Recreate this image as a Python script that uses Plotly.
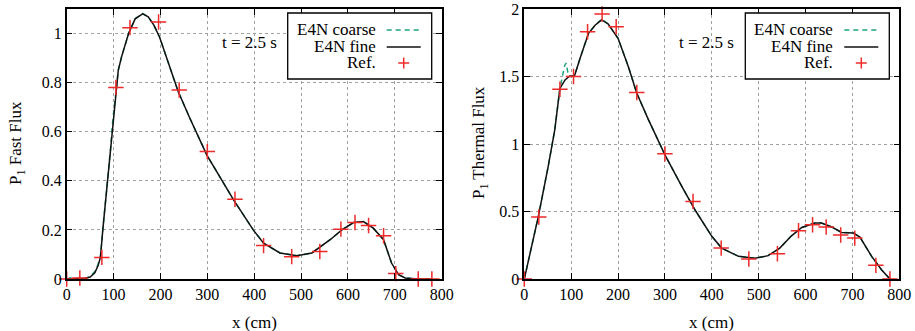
import plotly.graph_objects as go

# ---------------- data ----------------
fast_fine_x = [0, 20, 40, 50, 60, 67, 72, 77, 82, 87, 92, 97, 101, 105, 110, 117, 125, 132, 146, 162,
               174, 186, 198, 213, 238, 263, 299, 356, 398, 420, 455, 491, 523, 562, 587, 612, 633,
               654, 676, 693, 708, 722, 750, 780]
fast_fine_y = [0, 0.002, 0.003, 0.008, 0.025, 0.055, 0.088, 0.2, 0.3, 0.4, 0.5, 0.6, 0.7, 0.78, 0.85,
               0.905, 0.96, 1.0, 1.06, 1.08, 1.068, 1.034, 0.986, 0.905, 0.763, 0.654, 0.505, 0.322,
               0.2, 0.146, 0.106, 0.095, 0.106, 0.16, 0.2, 0.23, 0.234, 0.207, 0.16, 0.065, 0.018,
               0.004, 0.0, 0.0]
fast_coarse_x = [0, 10, 20, 40, 50, 60, 67, 72, 78, 84, 89, 94, 98, 102, 105, 110, 117, 125, 132, 146,
                 162, 174, 186, 198, 213, 238, 263, 299, 356, 398, 420, 455, 491, 523, 562, 587, 612,
                 633, 654, 676, 693, 708, 722, 750, 780]
fast_coarse_y = [0, 0.006, 0.002, 0.003, 0.01, 0.03, 0.06, 0.095, 0.22, 0.33, 0.44, 0.54, 0.64, 0.72,
                 0.78, 0.85, 0.905, 0.96, 1.0, 1.06, 1.082, 1.068, 1.034, 0.986, 0.905, 0.763, 0.654,
                 0.505, 0.322, 0.2, 0.146, 0.106, 0.095, 0.106, 0.16, 0.2, 0.23, 0.234, 0.207, 0.16,
                 0.065, 0.018, 0.004, 0.0, 0.0]
fast_ref_x = [0, 28, 75, 105, 135, 196, 240, 300, 359, 420, 480, 540, 585, 615, 644, 676, 702, 750, 779]
fast_ref_y = [0, 0.004, 0.088, 0.78, 1.024, 1.047, 0.77, 0.519, 0.325, 0.136, 0.091, 0.112, 0.203,
              0.23, 0.218, 0.176, 0.022, 0.0, 0.0]

therm_fine_x = [0, 30, 51, 65, 76, 87, 97, 107, 119, 137, 151, 165, 179, 200, 222, 240, 265, 300, 336,
                364, 400, 421, 457, 492, 520, 545, 570, 592, 620, 634, 656, 677, 702, 716, 741, 762, 780]
therm_fine_y = [0, 0.464, 0.834, 1.105, 1.413, 1.475, 1.504, 1.504, 1.635, 1.82, 1.88, 1.919, 1.889,
                1.783, 1.573, 1.376, 1.179, 0.92, 0.686, 0.513, 0.316, 0.229, 0.168, 0.153, 0.173,
                0.229, 0.32, 0.382, 0.414, 0.414, 0.385, 0.345, 0.34, 0.31, 0.168, 0.069, 0]
therm_coarse_x = [0, 30, 51, 65, 76, 81, 86, 89, 93, 98, 107, 119, 137, 151, 165, 179, 200, 222, 240,
                  265, 300, 336, 364, 400, 421, 457, 492, 520, 545, 570, 592, 620, 634, 656, 677, 702,
                  716, 741, 762, 780]
therm_coarse_y = [0, 0.464, 0.834, 1.105, 1.413, 1.5, 1.58, 1.6, 1.53, 1.5, 1.504, 1.635, 1.82, 1.88,
                  1.925, 1.889, 1.783, 1.573, 1.376, 1.179, 0.92, 0.686, 0.513, 0.316, 0.229, 0.168,
                  0.153, 0.173, 0.229, 0.32, 0.382, 0.414, 0.414, 0.385, 0.345, 0.34, 0.31, 0.168,
                  0.069, 0]
therm_ref_x = [0, 31, 76, 105, 135, 166, 196, 240, 300, 360, 420, 479, 540, 585, 615, 644, 675, 705, 750, 780]
therm_ref_y = [0, 0.459, 1.406, 1.5, 1.832, 1.963, 1.869, 1.381, 0.927, 0.575, 0.229, 0.148, 0.187,
               0.358, 0.402, 0.385, 0.326, 0.303, 0.101, 0]

fast_ticks = [0, 0.2, 0.4, 0.6, 0.8, 1]
fast_ticklabels = ["0", "0.2", "0.4", "0.6", "0.8", "1"]
therm_ticks = [0, 0.5, 1, 1.5, 2]
therm_ticklabels = ["0", "0.5", "1", "1.5", "2"]
x_ticks = [0, 100, 200, 300, 400, 500, 600, 700, 800]

legend_labels = ["E4N coarse", "E4N fine", "Ref."]
y_titles = ["P<sub>1</sub> Fast Flux", "P<sub>1</sub> Thermal Flux"]
x_title = "x (cm)"
time_label = "t = 2.5 s"

# ---------------- styling ----------------
W, H = 915, 331
MT, MB = 9, 52
FONT = "Liberation Serif, Times New Roman, serif"
TXT = 17
COARSE_COLOR = "#1aa37f"
FINE_COLOR = "#111111"
REF_COLOR = "#ee2a2a"

panels = [
    dict(px0=66.7, px1=441.7, xs="x", ys="y"),
    dict(px0=524.3, px1=899.3, xs="x2", ys="y2"),
]

def px_to_paper_x(px):
    return px / W

def py_to_paper_y(py):
    return (H - MB - py) / (H - MT - MB)

fig = go.Figure()

series = [
    (fast_coarse_x, fast_coarse_y, fast_fine_x, fast_fine_y, fast_ref_x, fast_ref_y),
    (therm_coarse_x, therm_coarse_y, therm_fine_x, therm_fine_y, therm_ref_x, therm_ref_y),
]

for p, (cx, cy, fx, fy, rx, ry) in zip(panels, series):
    fig.add_trace(go.Scatter(x=cx, y=cy, mode="lines", xaxis=p["xs"], yaxis=p["ys"],
                             line=dict(color=COARSE_COLOR, width=1.5, dash="5px,4px"),
                             name=legend_labels[0], showlegend=False, hoverinfo="skip"))
    fig.add_trace(go.Scatter(x=fx, y=fy, mode="lines", xaxis=p["xs"], yaxis=p["ys"],
                             line=dict(color=FINE_COLOR, width=1.5),
                             name=legend_labels[1], showlegend=False, hoverinfo="skip"))
    fig.add_trace(go.Scatter(x=rx, y=ry, mode="markers", xaxis=p["xs"], yaxis=p["ys"],
                             marker=dict(symbol="cross-thin", size=11,
                                         line=dict(color=REF_COLOR, width=1.5)),
                             cliponaxis=False,
                             name=legend_labels[2], showlegend=False, hoverinfo="skip"))

axis_common = dict(
    showline=True, linecolor="black", linewidth=1.5, mirror="allticks",
    ticks="inside", ticklen=6, tickcolor="black", tickwidth=1,
    showgrid=True, gridcolor="#a0a0a0", griddash="dot", gridwidth=1,
    zeroline=False, automargin=False,
    tickfont=dict(family=FONT, size=16, color="black"),
)

fig.update_layout(
    template="none",
    width=W, height=H,
    margin=dict(l=0, r=0, t=MT, b=MB, pad=0),
    plot_bgcolor="white", paper_bgcolor="white",
    showlegend=False,
    font=dict(family=FONT, size=16, color="black"),
    xaxis=dict(domain=[px_to_paper_x(panels[0]["px0"]), px_to_paper_x(panels[0]["px1"])],
               range=[0, 800], tickvals=x_ticks, anchor="y", **axis_common),
    yaxis=dict(domain=[0, 1], range=[0, 1.1], tickvals=fast_ticks, ticktext=fast_ticklabels,
               anchor="x", **axis_common),
    xaxis2=dict(domain=[px_to_paper_x(panels[1]["px0"]), px_to_paper_x(panels[1]["px1"])],
                range=[0, 800], tickvals=x_ticks, anchor="y2", **axis_common),
    yaxis2=dict(domain=[0, 1], range=[0, 2], tickvals=therm_ticks, ticktext=therm_ticklabels,
                anchor="x2", **axis_common),
)

annotations = []
shapes = []
ytitle_px = [17, 480]
for i, p in enumerate(panels):
    cx = (p["px0"] + p["px1"]) / 2
    annotations.append(dict(text=x_title, xref="paper", yref="paper",
                            x=px_to_paper_x(cx), y=py_to_paper_y(322),
                            showarrow=False, xanchor="center", yanchor="middle",
                            font=dict(family=FONT, size=TXT)))
    annotations.append(dict(text=y_titles[i], xref="paper", yref="paper",
                            x=px_to_paper_x(ytitle_px[i]), y=py_to_paper_y(143),
                            showarrow=False, textangle=-90, xanchor="center", yanchor="middle",
                            font=dict(family=FONT, size=TXT)))
    annotations.append(dict(text=time_label, xref="paper", yref="paper",
                            x=px_to_paper_x(p["px0"] + 182.5), y=py_to_paper_y(42),
                            showarrow=False, xanchor="center", yanchor="middle",
                            font=dict(family=FONT, size=TXT)))
    bx1 = p["px1"] - 10
    bx0 = bx1 - 144
    shapes.append(dict(type="rect", xref="paper", yref="paper",
                       x0=px_to_paper_x(bx0), x1=px_to_paper_x(bx1),
                       y0=py_to_paper_y(79), y1=py_to_paper_y(13),
                       line=dict(color="black", width=1.3), fillcolor="white", layer="above"))
    text_right = bx1 - 55
    s0, s1 = bx1 - 45, bx1 - 11
    rows = [30, 47, 63]
    for j, lab in enumerate(legend_labels):
        annotations.append(dict(text=lab, xref="paper", yref="paper",
                                x=px_to_paper_x(text_right), y=py_to_paper_y(rows[j]),
                                showarrow=False, xanchor="right", yanchor="middle",
                                height=15, borderpad=0, valign="middle",
                                font=dict(family=FONT, size=TXT)))
    shapes.append(dict(type="line", xref="paper", yref="paper",
                       x0=px_to_paper_x(s0), x1=px_to_paper_x(s1),
                       y0=py_to_paper_y(rows[0]), y1=py_to_paper_y(rows[0]),
                       line=dict(color=COARSE_COLOR, width=1.5, dash="5px,4px"), layer="above"))
    shapes.append(dict(type="line", xref="paper", yref="paper",
                       x0=px_to_paper_x(s0), x1=px_to_paper_x(s1),
                       y0=py_to_paper_y(rows[1]), y1=py_to_paper_y(rows[1]),
                       line=dict(color=FINE_COLOR, width=1.5), layer="above"))
    pc = (s0 + s1) / 2
    shapes.append(dict(type="line", xref="paper", yref="paper",
                       x0=px_to_paper_x(pc - 5.5), x1=px_to_paper_x(pc + 5.5),
                       y0=py_to_paper_y(rows[2]), y1=py_to_paper_y(rows[2]),
                       line=dict(color=REF_COLOR, width=1.5), layer="above"))
    shapes.append(dict(type="line", xref="paper", yref="paper",
                       x0=px_to_paper_x(pc), x1=px_to_paper_x(pc),
                       y0=py_to_paper_y(rows[2] - 5.5), y1=py_to_paper_y(rows[2] + 5.5),
                       line=dict(color=REF_COLOR, width=1.5), layer="above"))

fig.update_layout(annotations=annotations, shapes=shapes)
fig.write_html(
    "out.html",
    config={"displayModeBar": False, "responsive": False},
    post_script="document.body.style.margin='0';document.body.style.overflow='hidden';",
)
